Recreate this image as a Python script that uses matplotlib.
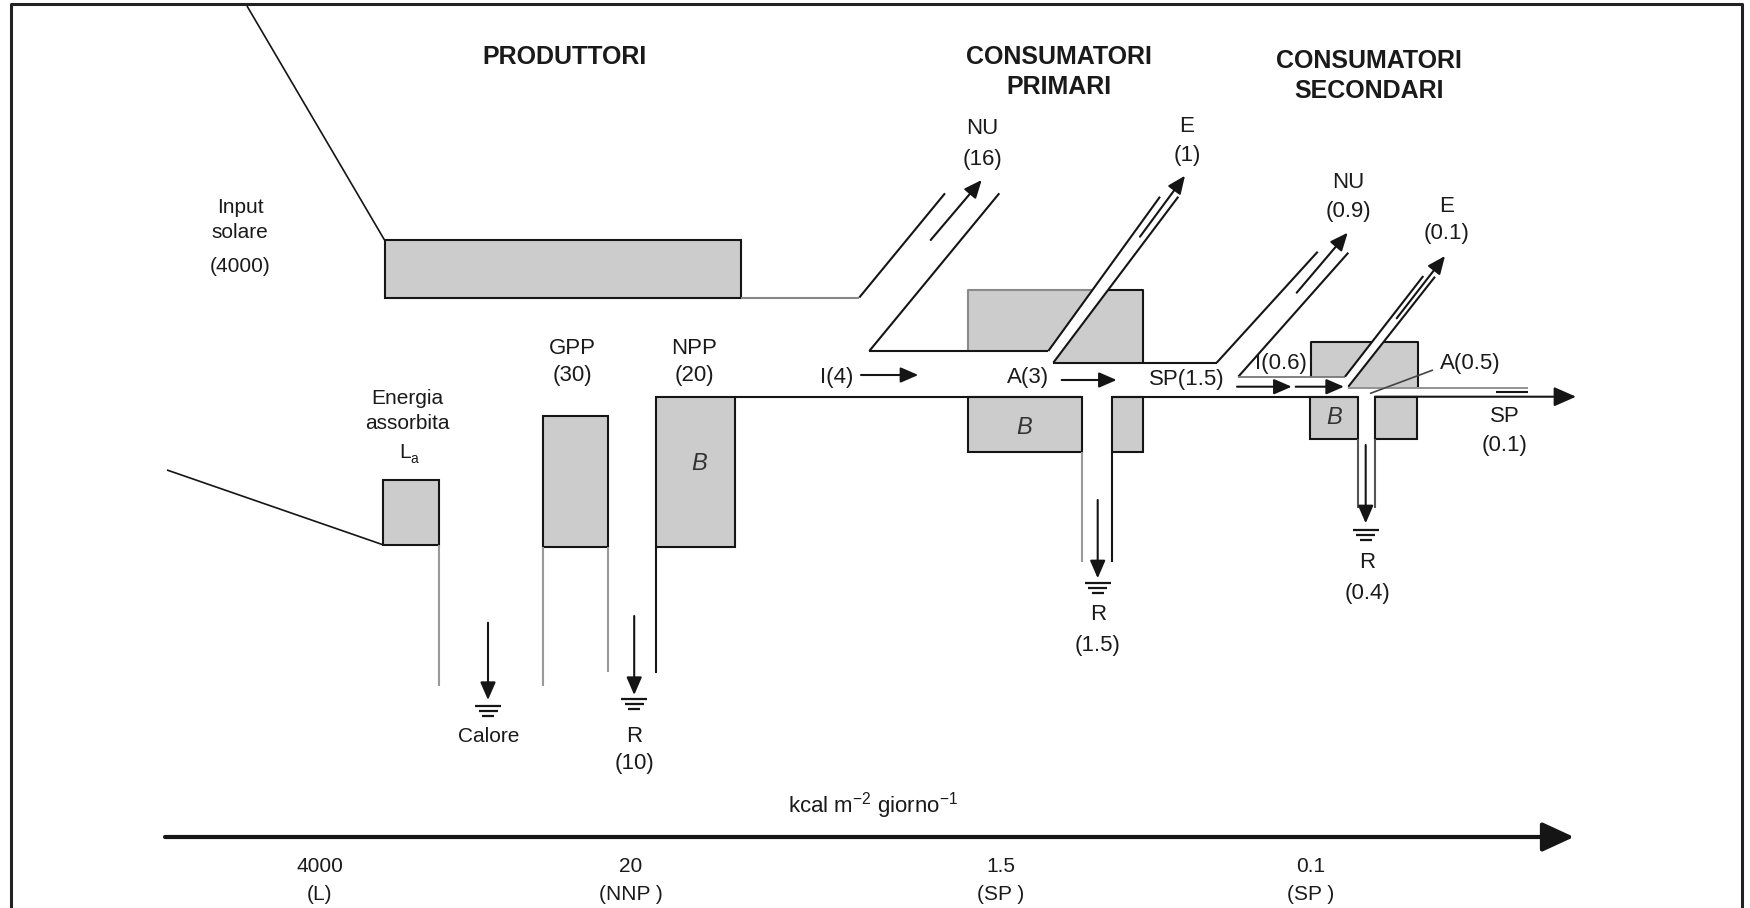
import matplotlib
matplotlib.use('Agg')
import matplotlib.pyplot as plt
from matplotlib import font_manager
from matplotlib.patches import Polygon, Rectangle, FancyArrowPatch

# ------------------------------------------------------------------ data
stage_titles = ['PRODUTTORI', 'CONSUMATORI\nPRIMARI', 'CONSUMATORI\nSECONDARI']
producer_names = ['Input\nsolare', 'GPP', 'NPP', 'R']
producer_values = [4000, 30, 20, 10]
primary_names = ['I', 'A', 'NU', 'E', 'R', 'SP']
primary_values = [4, 3, 16, 1, 1.5, 1.5]
secondary_names = ['I', 'A', 'NU', 'E', 'R', 'SP']
secondary_values = [0.6, 0.5, 0.9, 0.1, 0.4, 0.1]
scale_values = [4000, 20, 1.5, 0.1]
scale_codes = ['L', 'NNP ', 'SP ', 'SP ']
absorbed_label = 'Energia\nassorbita'
heat_label = 'Calore'
biomass_label = 'B'
unit_label = 'kcal m$^{\\mathregular{\u22122}}$ giorno$^{\\mathregular{\u22121}}$'


def v(x):
    return f'{x:g}'


names = {f.name for f in font_manager.fontManager.ttflist}
NARROW = 'Liberation Sans Narrow' if 'Liberation Sans Narrow' in names else 'Liberation Sans'
plt.rcParams['font.family'] = [NARROW, 'DejaVu Sans']

# ------------------------------------------------------------------ canvas
fig = plt.figure(figsize=(17.5, 9.08), dpi=100)
ax = fig.add_axes([0, 0, 1, 1])
ax.set_xlim(0, 1750)
ax.set_ylim(908, 0)
ax.axis('off')

FILL = '#cccccc'
K = '#151515'
G = '#9a9a9a'
DG = '#555555'
LW = 1.5
TXT = '#1a1a1a'


def line(pts, color=K, lw=LW, z=3):
    xs, ys = zip(*pts)
    ax.plot(xs, ys, color=color, lw=lw, solid_capstyle='butt', zorder=z)


def fill(pts, z=1):
    ax.add_patch(Polygon(pts, closed=True, facecolor=FILL, edgecolor='none', zorder=z))


def box(x0, y0, x1, y1, edge=K):
    ax.add_patch(Rectangle((x0, y0), x1 - x0, y1 - y0, facecolor=FILL,
                           edgecolor=edge, lw=LW, zorder=2))


def arrow(p0, p1, lw=1.5, scale=18, hl=0.6, hw=0.26):
    ax.add_patch(FancyArrowPatch(p0, p1, arrowstyle=f'-|>,head_length={hl},head_width={hw}',
                                 mutation_scale=scale, lw=lw, color=K,
                                 shrinkA=0, shrinkB=0, zorder=4))


def ground(x, y, widths=(26, 19, 12)):
    for dy, w in zip((0, 5, 10), widths):
        line([(x - w / 2, y + dy), (x + w / 2, y + dy)], lw=1.6)


def x_at(p0, p1, y):
    (x0, y0), (x1, y1) = p0, p1
    return x0 + (x1 - x0) * (y - y0) / (y1 - y0)


def label(x, y, s, size=16, **kw):
    ax.text(x, y, s, ha='center', va='center', fontsize=size, color=TXT, **kw)


def two_line(x, y, name, val, gap=29, size=16):
    label(x, y, name, size)
    label(x, y + gap, f'({v(val)})', size)


# ------------------------------------------------------------------ frame
line([(11, 910), (11, 4), (1742, 4), (1742, 910)], color='#222222', lw=2.2)

# ------------------------------------------------------------------ titles
for (x, y), t in zip([(564, 57), (1059, 72), (1369, 76)], stage_titles):
    ax.text(x, y, t, ha='center', va='center', fontsize=18, fontweight='bold',
            family='Liberation Sans', color=TXT, linespacing=1.35)

# ------------------------------------------------------------------ producers
line([(247, 6), (384.5, 240)], lw=1.2)
box(384.5, 240, 741, 297.5)
line([(167, 470), (382.5, 544.6)], lw=1.2)
box(382.5, 480, 439, 544.6)            # absorbed energy
box(543.3, 416, 608.2, 547.3)          # GPP
box(656.3, 396.7, 735, 547.3)          # NPP
line([(439, 545), (439, 686)], color=G)
line([(543.3, 547), (543.3, 686)], color=G)
line([(608.2, 547), (608.2, 672)], color=G)
line([(656.3, 547), (656.3, 673)])

ax.text(240, 220, producer_names[0], ha='center', va='center', fontsize=15,
        color=TXT, linespacing=1.45)
label(240, 266, f'({v(producer_values[0])})', 15)
ax.text(407, 411, absorbed_label, ha='center', va='center', fontsize=15,
        color=TXT, linespacing=1.45)
label(405, 453, 'L', 15)
label(414, 459, 'a', 10)
two_line(572, 348, producer_names[1], producer_values[1], gap=27)
two_line(694, 348, producer_names[2], producer_values[2], gap=27)
ax.text(699, 463, biomass_label, ha='center', va='center', fontsize=17,
        style='italic', family='Liberation Sans', color='#333333')
arrow((488, 622.7), (488, 700))
ground(488, 706)
label(489, 736, heat_label, 15)
arrow((634.2, 616), (634.2, 695))
ground(634.2, 699)
two_line(634.2, 736, producer_names[3], producer_values[3], gap=28)

# ------------------------------------------------------------------ primary consumers
nu_out = [(859.3, 297.5), (945, 193.3)]
nu_in = [(869.3, 351), (999.3, 193.3)]
e_left = [(1048.3, 351), (1160, 196.7)]
e_right = [(1053.3, 362.7), (1178.3, 196.7)]
top1 = 290
xl = x_at(*e_left, top1)
xr = x_at(*e_right, top1)
fill([(968, top1), (xl, top1), (1048.3, 351), (968, 351)])
fill([(xr, top1), (1143, top1), (1143, 362.7), (1053.3, 362.7)])
line([(968, 351), (968, top1), (xl, top1)], color='#8a8a8a')
line([(xr, top1), (1143, top1), (1143, 362.7)])

line([(741, 297.5), (859.3, 297.5)], color='#888888')
line(nu_out)
line(nu_in)
line([(869.3, 351), (1048.3, 351)])
line(e_left)
line(e_right)
line([(1053.3, 362.7), (1216.7, 362.7)])

box(968.3, 396.7, 1081.7, 451.7)
box(1112.3, 396.7, 1143.3, 451.7)
line([(1081.7, 451.7), (1081.7, 561.7)], color=G)
line([(1112.3, 451.7), (1112.3, 561.7)])
ax.text(1024, 427, biomass_label, ha='center', va='center', fontsize=17,
        style='italic', family='Liberation Sans', color='#333333')

arrow((930.7, 240), (981.7, 180))
arrow((1140, 236.7), (1185, 175.7))
arrow((861, 375), (918.3, 375))
arrow((1061.7, 380), (1116.7, 380))
arrow((1097.7, 500), (1097.7, 578.3))
ground(1097.7, 583.3)

pv = dict(zip(primary_names, primary_values))
label(836.7, 378, f"I({v(pv['I'])})")
label(1028, 378, f"A({v(pv['A'])})")
label(1187, 380, f"SP({v(pv['SP'])})")
two_line(982.7, 129, 'NU', pv['NU'], gap=31)
two_line(1187, 127, 'E', pv['E'], gap=29)
two_line(1097.7, 615, 'R', pv['R'], gap=30)

# ------------------------------------------------------------------ secondary consumers
nu2_left = [(1216.7, 362.7), (1317.7, 251.7)]
nu2_right = [(1238.3, 376.7), (1348.3, 252.7)]
e2_left = [(1345, 376.7), (1423.3, 276)]
e2_right = [(1348.3, 386.7), (1435, 276.7)]
top2 = 341.7
xl2 = x_at(*e2_left, top2)
xr2 = x_at(*e2_right, top2)
fill([(1311, top2), (xl2, top2), (1345, 376.7), (1311, 376.7)])
fill([(xr2, top2), (1417.7, top2), (1417.7, 386.7), (1348.3, 386.7)])
line([(1311, 376.7), (1311, top2), (xl2, top2)])
line([(xr2, top2), (1417.7, top2), (1417.7, 386.7)])

line(nu2_left)
line(nu2_right)
line([(1238.3, 376.7), (1345, 376.7)], color='#777777', lw=1.3)
line(e2_left)
line(e2_right)
line([(1348.3, 387.5), (1527.7, 387.5)], color='#8a8a8a', lw=1.3)
line([(1496, 392.3), (1527.7, 392.3)])
line([(1433, 370), (1370, 393.5)], color='#444444', lw=1.2)

box(1310, 396.7, 1357.7, 439.3)
box(1375, 396.7, 1417.3, 439.3)
line([(1357.7, 439.3), (1357.7, 508.3)], color=DG)
line([(1375, 439.3), (1375, 508.3)], color=DG)
ax.text(1334, 418, biomass_label, ha='center', va='center', fontsize=17,
        style='italic', family='Liberation Sans', color='#333333')

arrow((1296.7, 292.7), (1347.7, 232.7))
arrow((1396.7, 318.3), (1445, 256))
arrow((1237, 386.7), (1291.7, 386.7))
arrow((1295.7, 386.7), (1344, 386.7))
arrow((1365.7, 445), (1365.7, 523.3))
ground(1365.7, 530)

sv = dict(zip(secondary_names, secondary_values))
label(1281, 363, f"I({v(sv['I'])})")
label(1470, 363, f"A({v(sv['A'])})")
two_line(1348, 183, 'NU', sv['NU'], gap=28)
two_line(1447, 206, 'E', sv['E'], gap=28)
two_line(1505, 416, 'SP', sv['SP'], gap=30)
two_line(1367, 563, 'R', sv['R'], gap=30)

# ------------------------------------------------------------------ main energy line
line([(735, 396.7), (1081.7, 396.7)])
line([(1112.3, 396.7), (1357.7, 396.7)])
arrow((1375, 396.7), (1576, 396.7), scale=18, hl=0.75, hw=0.33)

# ------------------------------------------------------------------ energy scale
arrow((165, 837), (1574, 837), lw=3, scale=30, hl=0.65, hw=0.3)
ax.text(873, 806, unit_label, ha='center', va='center', fontsize=16, color=TXT)
for x, val, code in zip([320, 630.5, 1001, 1311], scale_values, scale_codes):
    label(x, 866, v(val), 15)
    label(x, 895, f'({code})', 15)

fig.savefig('out.png', dpi=100)
